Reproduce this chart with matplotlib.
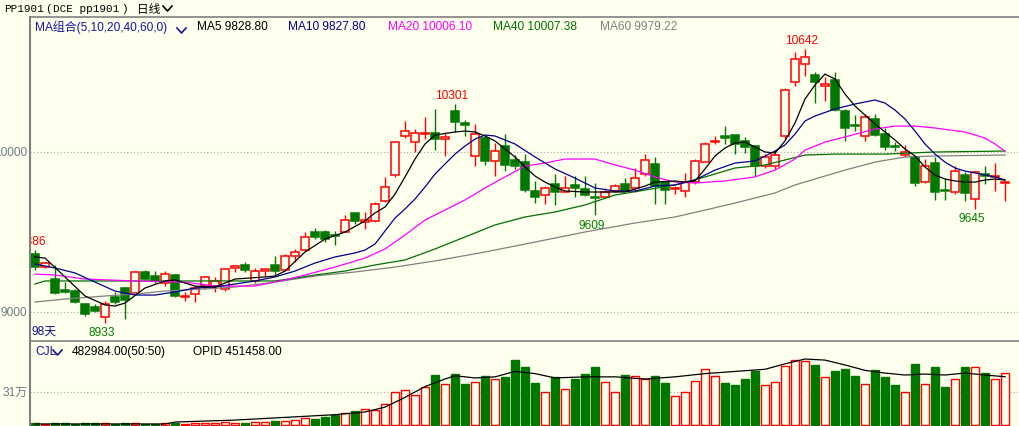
import matplotlib
matplotlib.use('Agg')
import matplotlib.pyplot as plt
from matplotlib.patches import Rectangle
from matplotlib.lines import Line2D
from matplotlib.transforms import offset_copy
import numpy as np

# daily candles, PP1901
opens = [9362, 9281, 9206, 9137, 9131, 9050, 9031, 8969, 9094, 9150,
         9119, 9250, 9225, 9181, 9231, 9094, 9112, 9162, 9162, 9144,
         9275, 9294, 9194, 9256, 9294, 9262, 9350, 9387, 9500, 9500,
         9481, 9500, 9619, 9562, 9569, 9694, 9856, 10100, 10062, 10112,
         10119, 10081, 10256, 10181, 9975, 10087, 9944, 10037, 9950, 9937,
         9756, 9731, 9800, 9750, 9794, 9769, 9719, 9719, 9756, 9800,
         9775, 9862, 9925, 9812, 9769, 9756, 9812, 9937, 10062, 10100,
         10106, 10069, 10037, 9912, 9912, 10100, 10437, 10550, 10481, 10412,
         10450, 10256, 10169, 10100, 10206, 10112, 10037, 9981, 9969, 9812,
         9931, 9762, 9750, 9856, 9706, 9862, 9844, 9806]
highs = [9386, 9312, 9294, 9187, 9144, 9056, 9050, 9069, 9125, 9156,
         9256, 9262, 9256, 9256, 9240, 9125, 9162, 9225, 9219, 9275,
         9294, 9312, 9275, 9275, 9350, 9362, 9394, 9500, 9525, 9512,
         9506, 9606, 9619, 9625, 9687, 9844, 10069, 10194, 10144, 10219,
         10269, 10125, 10301, 10200, 10175, 10100, 10056, 10112, 9981, 9987,
         9819, 9787, 9862, 9850, 9850, 9850, 9806, 9775, 9800, 9837,
         9900, 9987, 9969, 9819, 9787, 9869, 9956, 10062, 10100, 10162,
         10106, 10094, 10044, 9987, 10012, 10400, 10625, 10642, 10500, 10469,
         10500, 10269, 10231, 10237, 10237, 10150, 10062, 10044, 9975, 9956,
         9969, 9837, 9912, 9875, 9881, 9912, 9931, 9819]
lows = [9262, 9275, 9112, 9119, 9056, 8975, 9000, 8933, 9050, 8956,
        9119, 9200, 9181, 9162, 9094, 9069, 9062, 9144, 9125, 9131,
        9250, 9250, 9181, 9225, 9231, 9256, 9312, 9381, 9456, 9437,
        9419, 9500, 9550, 9519, 9562, 9687, 9844, 10087, 10000, 10081,
        10012, 9975, 10125, 10100, 9912, 9919, 9850, 9881, 9894, 9750,
        9681, 9675, 9669, 9750, 9719, 9725, 9609, 9712, 9750, 9756,
        9750, 9850, 9675, 9675, 9737, 9719, 9800, 9937, 10050, 10050,
        9987, 9994, 9850, 9900, 9894, 10081, 10412, 10475, 10306, 10319,
        10256, 10069, 10131, 10069, 10100, 10012, 10006, 9969, 9787, 9806,
        9700, 9700, 9737, 9694, 9645, 9800, 9756, 9694]
closes = [9281, 9306, 9119, 9125, 9062, 8987, 9006, 9050, 9062, 9075,
          9250, 9206, 9194, 9237, 9100, 9100, 9150, 9219, 9194, 9269,
          9287, 9262, 9256, 9269, 9256, 9350, 9375, 9469, 9469, 9456,
          9475, 9575, 9569, 9575, 9675, 9781, 10062, 10131, 10119, 10119,
          10081, 10094, 10187, 10169, 10112, 9944, 10006, 9919, 9912, 9762,
          9719, 9775, 9750, 9775, 9775, 9731, 9712, 9750, 9787, 9756,
          9837, 9950, 9787, 9762, 9775, 9812, 9944, 10050, 10069, 10087,
          10050, 10031, 9912, 9969, 9981, 10387, 10581, 10594, 10437, 10425,
          10262, 10150, 10162, 10219, 10106, 10031, 10031, 10000, 9806, 9912,
          9750, 9756, 9881, 9744, 9875, 9850, 9850, 9812]
# volume in 万
vols = [2, 1.5, 2, 2, 1.5, 2, 2, 2, 1.5, 2, 2, 1.5, 1.5, 2, 2, 1.5, 2,
        2, 2, 3, 2, 2.5, 3, 3, 4, 4, 5,
        7, 6, 8, 10, 12, 13, 15, 14,
        20, 31, 33, 28, 36, 47, 38, 48, 38, 40, 46, 43, 45, 61, 54, 39, 31, 45, 34, 43,
        48, 54, 40, 31, 47, 46, 43, 46, 39, 27, 31, 41, 52, 46, 39, 37, 43, 50, 37, 40,
        55, 61, 60, 56, 45, 50, 52, 46, 38, 51, 45, 37, 31, 57, 38, 54, 36, 43, 54, 54,
        49, 43, 48.3]

# moving averages (candle index, value)
ma5_i = [0, 1, 3, 5, 7, 8, 9, 11, 13, 14, 16, 18, 20, 23, 24, 25, 27, 29, 31, 33,
         34, 35, 36, 37, 38, 39, 40, 42, 43, 44, 45, 46, 47, 48, 49, 50, 51, 52, 53, 55,
         57, 59, 60, 61, 62, 64, 65, 66, 67, 68, 69, 70, 71, 72, 73, 74, 75, 76, 77, 78,
         79, 80, 81, 82, 83, 84, 85, 86, 87, 88, 89, 90, 91, 92, 93, 94, 95, 96, 97]
ma5_v = [9344, 9337, 9219, 9100, 9044, 9037, 9056, 9150, 9194, 9200, 9162, 9156, 9206, 9219, 9225, 9256, 9375, 9456, 9500, 9569,
         9619, 9656, 9737, 9844, 9956, 10050, 10106, 10125, 10131, 10125, 10100, 10069, 10019, 9969, 9906, 9850, 9812, 9781, 9756, 9750,
         9750, 9750, 9769, 9787, 9812, 9819, 9812, 9819, 9894, 9975, 10025, 10056, 10062, 10031, 10000, 9994, 10069, 10181, 10331, 10419,
         10487, 10456, 10362, 10287, 10231, 10175, 10125, 10075, 10019, 9975, 9906, 9856, 9831, 9819, 9812, 9812, 9825, 9831, 9825]
ma10_i = [0, 2, 4, 6, 8, 10, 12, 14, 16, 18, 20, 22, 24, 26, 28, 30, 32, 33, 34, 35,
          36, 37, 38, 39, 40, 41, 42, 43, 44, 45, 46, 47, 48, 50, 52, 54, 56, 58, 60, 62,
          64, 66, 68, 70, 72, 74, 75, 76, 77, 78, 80, 82, 84, 85, 86, 87, 88, 89, 90, 91,
          92, 93, 94, 95, 96, 97]
ma10_v = [9300, 9275, 9244, 9187, 9131, 9106, 9106, 9125, 9150, 9156, 9175, 9194, 9219, 9256, 9306, 9344, 9369, 9387, 9425, 9506,
          9587, 9644, 9706, 9781, 9862, 9925, 9987, 10037, 10081, 10106, 10100, 10075, 10050, 9969, 9894, 9837, 9775, 9756, 9756, 9787,
          9794, 9825, 9887, 9931, 9944, 10006, 10044, 10112, 10194, 10225, 10269, 10300, 10325, 10306, 10262, 10206, 10131, 10050, 9987, 9937,
          9900, 9881, 9869, 9856, 9844, 9825]
ma20_i = [0, 2, 5, 10, 15, 18, 22, 25, 27, 30, 33, 35, 37, 39, 41, 43, 45, 47, 49, 51,
          53, 56, 58, 60, 62, 64, 66, 69, 72, 74, 76, 77, 79, 81, 84, 86, 88, 90, 93, 95,
          96, 97]
ma20_v = [9237, 9231, 9206, 9194, 9187, 9162, 9162, 9200, 9231, 9281, 9337, 9394, 9481, 9575, 9637, 9700, 9775, 9844, 9912, 9931,
          9956, 9956, 9919, 9887, 9844, 9812, 9806, 9819, 9844, 9887, 9956, 10012, 10062, 10094, 10144, 10162, 10162, 10150, 10125, 10087,
          10050, 10006]
ma40_i = [0, 1, 10, 20, 24, 26, 28, 31, 34, 37, 40, 43, 46, 49, 52, 55, 58, 61, 64, 67,
          70, 73, 75, 77, 80, 85, 90, 97]
ma40_v = [9175, 9194, 9194, 9194, 9194, 9212, 9231, 9256, 9294, 9325, 9394, 9469, 9544, 9594, 9625, 9669, 9731, 9762, 9794, 9844,
          9900, 9919, 9950, 9981, 9987, 9987, 10000, 10006]
ma60_i = [0, 3, 7, 10, 13, 17, 20, 24, 28, 32, 36, 40, 45, 50, 55, 60, 64, 67, 70, 74,
          76, 79, 81, 84, 87, 90, 97]
ma60_v = [9062, 9081, 9100, 9112, 9131, 9144, 9156, 9187, 9225, 9250, 9281, 9319, 9375, 9437, 9500, 9556, 9594, 9637, 9681, 9744,
          9794, 9850, 9887, 9937, 9969, 9975, 9981]
# open interest (万)
opid_i = [0, 13, 14, 20, 26, 30, 33, 35, 37, 39, 41, 42, 44, 46, 48, 50, 52, 55, 58, 61,
          64, 67, 70, 73, 75, 77, 79, 81, 83, 85, 87, 89, 91, 93, 95, 97]
opid_v = [1.4, 1.4, 3.2, 5, 8, 10, 12.5, 17, 26, 36, 43, 46, 44, 45, 50, 48, 44, 45, 45, 43,
          45, 48, 50, 52, 57, 61.5, 60.5, 56, 51, 48.5, 46.7, 47.6, 46.7, 48.5, 46.7, 45.1]

BG = '#FFFFEE'
UP = '#FF0000'
DN = '#007800'
AXC = '#808080'
GRIDC = '#A8A8A8'
LBLC = '#6B7B8B'

plt.rcParams['font.family'] = ['Liberation Sans', 'Noto Sans CJK SC', 'DejaVu Sans']
FS = 8.6
MONO = ['Liberation Mono', 'Noto Sans CJK SC']
TFS = 7.9

W, H = 1020, 427
fig = plt.figure(figsize=(10.2, 4.27), dpi=100, facecolor=BG)


def fx(px):
    return px / W


def fy(py):
    return 1 - py / H


def chevron(x0, y0, color):
    fig.add_artist(Line2D([fx(x0), fx(x0 + 4.5), fx(x0 + 9)], [fy(y0), fy(y0 + 5), fy(y0)],
                          transform=fig.transFigure, color=color, lw=1.2))


ax = fig.add_axes([fx(30), fy(342), 1 - fx(30), fy(18) - fy(342)])
axv = fig.add_axes([fx(30), 0, 1 - fx(30), fy(342)])
for a in (ax, axv):
    a.set_facecolor(BG)
    for s in a.spines.values():
        s.set_visible(False)
    a.set_xticks([])
    a.set_yticks([])
    a.set_xlim(-0.5, 98.5)

ax.set_ylim(8818.75, 10843.75)
axv.set_ylim(-0.4625, 78.16)

n = len(closes)
x = np.arange(n)

# grid
for p in (10000, 9000):
    ax.axhline(p, color=GRIDC, lw=0.8, ls=(0, (1, 2)), zorder=0)
axv.axhline(31, color=GRIDC, lw=0.8, ls=(0, (1, 2)), zorder=0)

# candles
for i in x:
    o, h, l, c = opens[i], highs[i], lows[i], closes[i]
    up = c >= o
    col = UP if up else DN
    top, bot = max(o, c), min(o, c)
    ax.vlines(i, top, h, color=col, lw=1.0, zorder=2)
    ax.vlines(i, l, bot, color=col, lw=1.0, zorder=2)
    ax.add_patch(Rectangle((i - 0.4, bot), 0.8, max(top - bot, 2), facecolor=BG if up else col,
                           edgecolor=col, lw=1.1, zorder=3))
    axv.add_patch(Rectangle((i - 0.4, 0), 0.8, vols[i], facecolor=BG if up else col,
                            edgecolor=col, lw=1.0, zorder=2))

# moving averages
ax.plot(ma60_i, ma60_v, color='#808080', lw=0.9, zorder=4)
ax.plot(ma40_i, ma40_v, color='#007000', lw=0.9, zorder=4)
ax.plot(ma20_i, ma20_v, color='#FF00FF', lw=0.9, zorder=4)
ax.plot(ma10_i, ma10_v, color='#000090', lw=0.9, zorder=4)
ax.plot(ma5_i, ma5_v, color='#000000', lw=0.9, zorder=4)

axv.plot(opid_i, opid_v, color='black', lw=0.9, zorder=3)


def mark(i, p, text, dx, dy, va, color, ha='center'):
    tr = offset_copy(ax.transData, fig=fig, x=dx, y=dy, units='dots')
    ax.text(i, p, text, transform=tr, ha=ha, va=va, color=color, fontsize=FS, clip_on=True)


# extreme labels
mark(77, 10642, '10642', -3, 3, 'bottom', UP)
mark(42, 10301, '10301', -3, 3, 'bottom', UP)
mark(0, 9386, '9386', 11, 3, 'bottom', UP, ha='right')
mark(7, 8933, '8933', -3, -3, 'top', '#008000')
mark(56, 9609, '9609', -3, -4, 'top', '#008000')
mark(94, 9645, '9645', -3, -3, 'top', '#008000')

# frame lines
fig.add_artist(Line2D([fx(30), fx(30)], [fy(18), 0], transform=fig.transFigure, color=AXC, lw=1.5))
fig.add_artist(Line2D([fx(30), 1], [fy(18), fy(18)], transform=fig.transFigure, color=AXC, lw=1.2))
fig.add_artist(Line2D([fx(30), 1], [fy(342), fy(342)], transform=fig.transFigure, color=AXC, lw=1.2))

# title
fig.text(fx(4), fy(9), 'PP1901', family=MONO, fontsize=TFS, va='center', ha='left', color='black')
fig.text(fx(45), fy(9), '(', family=MONO, fontsize=TFS, va='center', ha='left', color='black')
fig.text(fx(53), fy(9), 'DCE pp1901', family=MONO, fontsize=TFS, va='center', ha='left', color='black')
fig.text(fx(121), fy(9), ')', family=MONO, fontsize=TFS, va='center', ha='left', color='black')
fig.text(fx(137), fy(9), '日线', family=['Noto Sans CJK SC'], fontsize=8.4,
         va='center', ha='left', color='black')
chevron(163, 7, 'black')

# MA legend
fig.text(fx(35), fy(27.5), 'MA组合(5,10,20,40,60,0)', color='#1414A0', fontsize=FS, va='center')
chevron(177, 29, '#1414A0')
fig.text(fx(197), fy(27.5), 'MA5 9828.80', color='black', fontsize=FS, va='center')
fig.text(fx(288), fy(27.5), 'MA10 9827.80', color='#000090', fontsize=FS, va='center')
fig.text(fx(388), fy(27.5), 'MA20 10006.10', color='#FF00FF', fontsize=FS, va='center')
fig.text(fx(493), fy(27.5), 'MA40 10007.38', color='#007000', fontsize=FS, va='center')
fig.text(fx(600), fy(27.5), 'MA60 9979.22', color='#808080', fontsize=FS, va='center')

# axis labels
fig.text(fx(27), fy(153), '10000', color=LBLC, fontsize=FS, va='center', ha='right')
fig.text(fx(27), fy(313), '9000', color=LBLC, fontsize=FS, va='center', ha='right')
fig.text(fx(28), fy(393), '31万', color=LBLC, fontsize=FS, va='center', ha='right')
fig.text(fx(32), fy(332), '98天', color='#101090', fontsize=FS, va='center', ha='left')

# volume legend
fig.text(fx(35), fy(352), 'CJL', color='#1414A0', fontsize=FS, va='center')
chevron(53, 351, '#1414A0')
fig.text(fx(72), fy(352), '482984.00(50:50)', color='black', fontsize=FS, va='center')
fig.text(fx(193), fy(352), 'OPID 451458.00', color='black', fontsize=FS, va='center')

fig.savefig('out.png', dpi=100, facecolor=BG)
